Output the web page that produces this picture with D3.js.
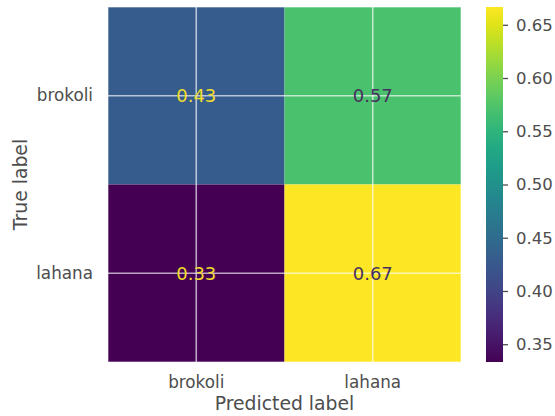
<!DOCTYPE html>
<html><head><meta charset="utf-8">
<script src="https://cdn.jsdelivr.net/npm/d3@7"></script>
<style>body{margin:0;background:#fff}svg{display:block;font-family:"DejaVu Sans",sans-serif}</style>
</head><body>
<script>
const trueLabels = ["brokoli", "lahana"];
const predLabels = ["brokoli", "lahana"];
const rowBrokoli = [0.4286, 0.5714];
const rowLahana = [0.3333, 0.6667];
const cbTicks = [0.35, 0.40, 0.45, 0.50, 0.55, 0.60, 0.65];

const matrix = [rowBrokoli, rowLahana];
const W = 555, H = 416;
const svg = d3.select("body").append("svg").attr("width", W).attr("height", H);

const m = {left: 108, top: 7, right: 461, bottom: 362};
const x = d3.scaleBand().domain(predLabels).range([m.left, m.right]);
const y = d3.scaleBand().domain(trueLabels).range([m.top, m.bottom]);
const all = matrix.flat();
const vmin = d3.min(all), vmax = d3.max(all);
const color = d3.scaleSequential(d3.interpolateViridis).domain([vmin, vmax]);

const cells = [];
trueLabels.forEach((t, i) => predLabels.forEach((p, j) => cells.push({t, p, v: matrix[i][j]})));

svg.append("g").selectAll("rect").data(cells).join("rect")
  .attr("x", d => x(d.p)).attr("y", d => y(d.t))
  .attr("width", x.bandwidth()).attr("height", y.bandwidth())
  .attr("fill", d => color(d.v));

// frame
svg.append("rect").attr("x", m.left).attr("y", m.top)
  .attr("width", m.right - m.left).attr("height", m.bottom - m.top)
  .attr("fill", "none").attr("stroke", "#fff").attr("stroke-opacity", 0.6).attr("stroke-width", 1);

// grid
const grid = svg.append("g").attr("stroke", "#fff").attr("stroke-opacity", 0.65).attr("stroke-width", 1.6);
predLabels.forEach(p => grid.append("line")
  .attr("x1", x(p) + x.bandwidth() / 2).attr("x2", x(p) + x.bandwidth() / 2)
  .attr("y1", m.top).attr("y2", m.bottom));
trueLabels.forEach(t => grid.append("line")
  .attr("y1", y(t) + y.bandwidth() / 2).attr("y2", y(t) + y.bandwidth() / 2)
  .attr("x1", m.left).attr("x2", m.right));

// annotations
const thresh = (vmin + vmax) / 2;
svg.append("g").selectAll("text").data(cells).join("text")
  .attr("x", d => x(d.p) + x.bandwidth() / 2)
  .attr("y", d => y(d.t) + y.bandwidth() / 2)
  .attr("text-anchor", "middle").attr("dy", "0.36em")
  .attr("font-size", 18)
  .attr("fill", d => d.v < thresh ? "#f0dc2a" : "#45305f")
  .text(d => d.v.toFixed(2));

// axes
const xAxis = svg.append("g").attr("transform", `translate(0,${m.bottom})`)
  .call(d3.axisBottom(x).tickSize(0).tickPadding(14));
const yAxis = svg.append("g").attr("transform", `translate(${m.left},0)`)
  .call(d3.axisLeft(y).tickSize(0).tickPadding(15));
[xAxis, yAxis].forEach(a => {
  a.select(".domain").remove();
  a.selectAll("text").attr("font-size", 16.8).attr("fill", "#4d4d4d").attr("font-family", "DejaVu Sans");
});

svg.append("text").attr("x", (m.left + m.right) / 2).attr("y", 410)
  .attr("text-anchor", "middle").attr("font-size", 18.8).attr("fill", "#4d4d4d")
  .text("Predicted label");
svg.append("text").attr("transform", `translate(27,${(m.top + m.bottom) / 2}) rotate(-90)`)
  .attr("text-anchor", "middle").attr("font-size", 18.8).attr("fill", "#4d4d4d")
  .text("True label");

// colorbar
const cb = {x: 486, w: 17, top: m.top, bottom: m.bottom};
const cy = d3.scaleLinear().domain([vmin, vmax]).range([cb.bottom, cb.top]);
const defs = svg.append("defs");
const grad = defs.append("linearGradient").attr("id", "cbg")
  .attr("x1", 0).attr("y1", 1).attr("x2", 0).attr("y2", 0);
d3.range(0, 1.0001, 0.05).forEach(s => grad.append("stop")
  .attr("offset", s).attr("stop-color", d3.interpolateViridis(s)));
svg.append("rect").attr("x", cb.x).attr("y", cb.top).attr("width", cb.w)
  .attr("height", cb.bottom - cb.top).attr("fill", "url(#cbg)");
const cAxis = svg.append("g").attr("transform", `translate(${cb.x + cb.w},0)`)
  .call(d3.axisRight(cy).tickValues(cbTicks).tickFormat(d3.format(".2f")).tickSize(5).tickPadding(8));
cAxis.select(".domain").remove();
cAxis.selectAll("line").attr("stroke", "#4d4d4d").attr("stroke-width", 1.3);
cAxis.selectAll("text").attr("font-size", 16.5).attr("fill", "#4d4d4d").attr("font-family", "DejaVu Sans");
</script>
</body></html>
